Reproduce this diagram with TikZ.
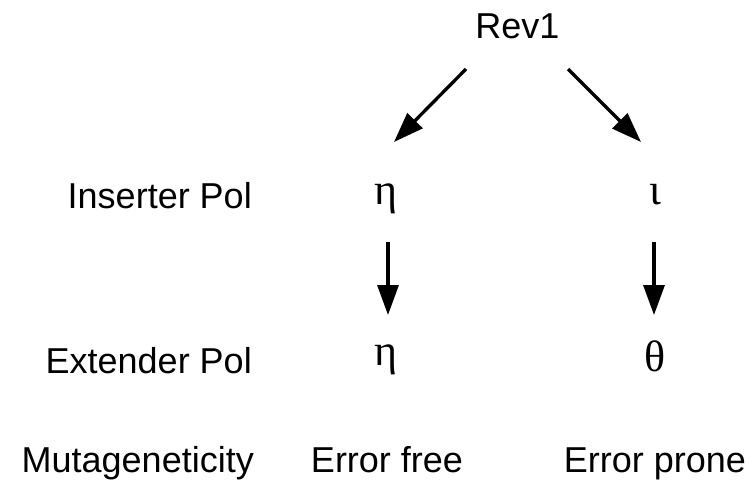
\documentclass[tikz,border=0pt]{standalone}
\usepackage{fontspec}
\setmainfont{Liberation Sans}
\newfontfamily\greekfont{Liberation Serif}
\usetikzlibrary{arrows.meta}
\begin{document}
\begin{tikzpicture}[x=1pt,y=-1pt,
  lbl/.style={inner sep=0pt,font=\fontsize{36}{40}\selectfont},
  grk/.style={inner sep=0pt,font=\fontsize{44}{48}\selectfont\greekfont},
  arr/.style={line width=3.3pt,-{Triangle[length=30pt,width=21pt]}}]
\useasboundingbox (0,0) rectangle (752,483);
\node[lbl,anchor=base] (rev) at (517.5,38) {Rev1};
\node[lbl,anchor=base east] (ins) at (252,208) {Inserter Pol};
\node[lbl,anchor=base east] (ext) at (252,373) {Extender Pol};
\node[lbl,anchor=base east] (mut) at (254,472) {Mutageneticity};
\node[grk,anchor=base] (eta1) at (386,204) {η};
\node[grk,anchor=base] (iota) at (655,204) {ι};
\node[grk,anchor=base] (eta2) at (386,365) {η};
\node[grk,anchor=base] (theta) at (655,371) {θ};
\node[lbl,anchor=base] (free) at (387,472) {Error free};
\node[lbl,anchor=base] (prone) at (655,472) {Error prone};
\coordinate (a1s) at (466,69);
\coordinate (a1e) at (394,142);
\coordinate (a2s) at (568,69);
\coordinate (a2e) at (641,142);
\coordinate (v1s) at (388,242);
\coordinate (v1e) at (388,315);
\coordinate (v2s) at (654,242);
\coordinate (v2e) at (654,315);
\draw[arr] (a1s) -- (a1e);
\draw[arr] (a2s) -- (a2e);
\draw[arr] (v1s) -- (v1e);
\draw[arr] (v2s) -- (v2e);
\end{tikzpicture}
\end{document}
